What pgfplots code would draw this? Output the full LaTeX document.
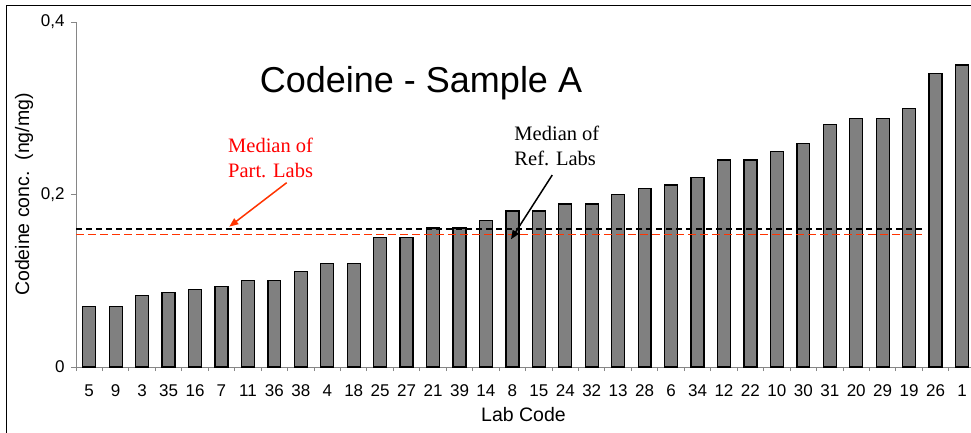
\documentclass[border=0pt]{standalone}
\usepackage{pgfplots}
\pgfplotsset{compat=1.18}
\usepackage{fontspec}
\setmainfont{Liberation Sans}
\newfontfamily\seriffont{Liberation Serif}
\usetikzlibrary{arrows.meta}
\definecolor{barfill}{HTML}{808080}
\definecolor{axisgray}{HTML}{868686}
\definecolor{partred}{HTML}{FF3300}

\begin{document}
\begin{tikzpicture}
\useasboundingbox (0,0) rectangle (971pt,432pt);
% outer frame (right and bottom edges cut off)
\draw[line width=1pt] (6.5pt,-2pt) -- (6.5pt,426pt) -- (975pt,426pt);
\begin{axis}[
  at={(76pt,65pt)}, anchor=south west,
  scale only axis, width=895pt, height=345pt,
  xmin=-0.5, xmax=33.34, ymin=0, ymax=0.4,
  axis x line*=bottom, axis y line*=left,
  axis line style={axisgray, line width=1pt, -},
  tick align=outside,
  xtick={0,...,33},
  xticklabels={5,9,3,35,16,7,11,36,38,4,18,25,27,21,39,14,8,15,24,32,13,28,6,34,12,22,10,30,31,20,29,19,26,1},
  minor xtick={-0.5,0.5,...,32.5},
  major x tick style={draw=none},
  minor x tick style={axisgray, line width=1pt},
  y tick style={axisgray, line width=1pt},
  major tick length=5pt, minor tick length=4pt,
  ytick={0,0.2,0.4},
  yticklabels={0,{0,2},{0,4}},
  tick label style={font=\fontsize{17}{20}\selectfont},
  xticklabel style={yshift=-9pt},
  yticklabel style={xshift=-3pt},
  xlabel={Lab Code},
  ylabel={Codeine conc.\ \ (ng/mg)},
  label style={font=\fontsize{19.5}{23}\selectfont},
  xlabel style={at={(axis description cs:0.5,0)}, anchor=center, yshift=-47.5pt},
  ylabel style={at={(axis description cs:-0.0581,0.5)}, anchor=center},
]
\addplot[ybar, bar width=0.49, fill=barfill, draw=black, line width=1.3pt] coordinates {
  (0,0.070) (1,0.070) (2,0.083) (3,0.086) (4,0.090) (5,0.093) (6,0.100) (7,0.100)
  (8,0.111) (9,0.120) (10,0.120) (11,0.150) (12,0.150) (13,0.161) (14,0.161) (15,0.170)
  (16,0.181) (17,0.181) (18,0.189) (19,0.189) (20,0.200) (21,0.207) (22,0.211) (23,0.220)
  (24,0.240) (25,0.240) (26,0.250) (27,0.259) (28,0.281) (29,0.288) (30,0.288) (31,0.300)
  (32,0.340) (33,0.350)
};
% medians
\addplot[black, dash pattern=on 6pt off 4pt, line width=1.2pt] coordinates {(-0.5,0.160) (31.5,0.160)};
\addplot[partred, dash pattern=on 8pt off 4pt, line width=1.2pt] coordinates {(-0.5,0.154) (31.5,0.154)};

\draw[partred, line width=1.5pt, -{Triangle[length=9pt,width=7pt]}] (axis cs:7.466,0.2137) -- (axis cs:5.296,0.1627);
\draw[black, line width=1.5pt, -{Triangle[length=9pt,width=7pt]}] (axis cs:17.507,0.2226) -- (axis cs:15.946,0.148);

\node[anchor=base west, text=red, font=\seriffont\fontsize{20.5}{24}\selectfont, inner sep=0] at (rel axis cs:0.1698,0.6232) {Median of};
\node[anchor=base west, text=red, font=\seriffont\fontsize{20.5}{24}\selectfont, inner sep=0] at (rel axis cs:0.1698,0.5507) {Part. Labs};
\node[anchor=base west, font=\seriffont\fontsize{20.5}{24}\selectfont, inner sep=0] at (rel axis cs:0.4897,0.6559) {Median of};
\node[anchor=base west, font=\seriffont\fontsize{20.5}{24}\selectfont, inner sep=0] at (rel axis cs:0.4897,0.5835) {Ref. Labs};

\node[anchor=base, font=\fontsize{36}{43}\selectfont, inner sep=0] at (rel axis cs:0.3855,0.797) {Codeine - Sample A};
\end{axis}
\end{tikzpicture}
\end{document}
